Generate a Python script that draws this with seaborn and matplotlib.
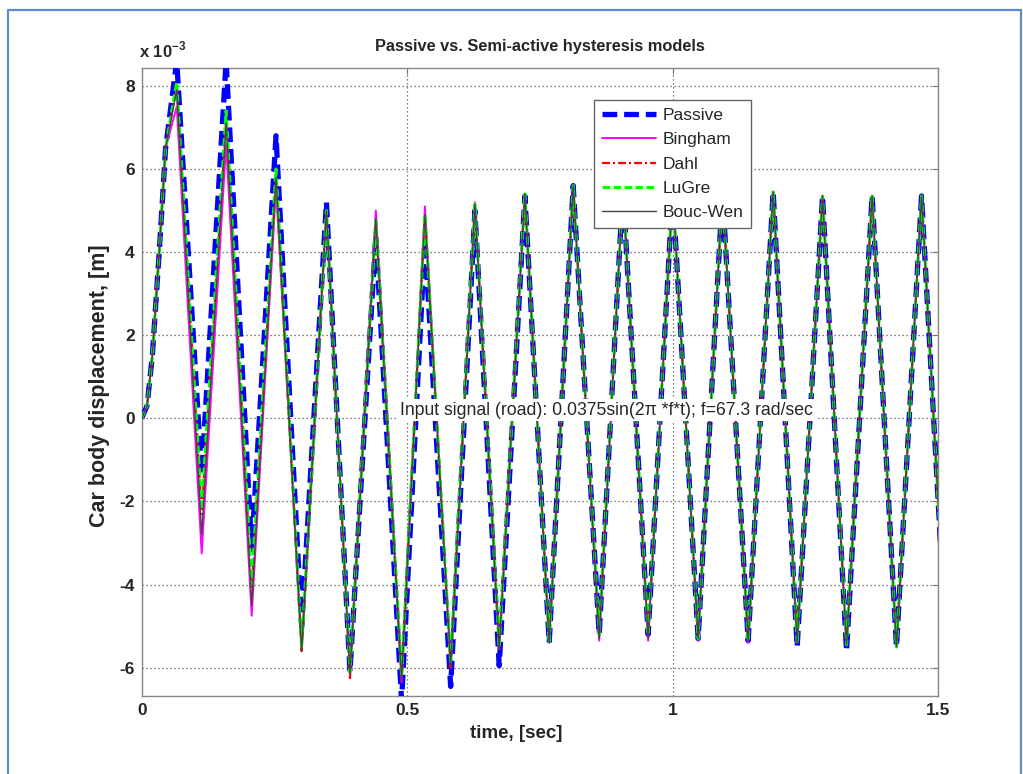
import numpy as np
import pandas as pd
import matplotlib
matplotlib.use("Agg")
import matplotlib.pyplot as plt
import seaborn as sns
from matplotlib.lines import Line2D

# ---------------- data (displacement in units of 1e-3 m) ----------------
onset_t = [0.0, 0.010, 0.020, 0.033, 0.045]
onset_y = [0.0, 0.3, 1.5, 4.0, 6.5]

peak_t = [0.066, 0.159, 0.253, 0.348, 0.441, 0.5335, 0.6277, 0.7218,
          0.8128, 0.9064, 1.0002, 1.094, 1.1895, 1.2825, 1.3759, 1.469]
trough_t = [0.113, 0.2072, 0.3013, 0.3923, 0.4896, 0.582, 0.6734, 0.7676,
            0.8618, 0.954, 1.0482, 1.1424, 1.2347, 1.3277, 1.4218, 1.515]

passive_peaks = [8.6, 8.6, 6.8, 5.2, 4.4, 4.3, 5.0, 5.35,
                 5.6, 5.55, 5.5, 5.45, 5.45, 5.35, 5.35, 5.35]
passive_troughs = [-1.35, -3.15, -5.0, -6.1, -6.8, -6.45, -5.95, -5.4,
                   -5.2, -5.2, -5.3, -5.35, -5.5, -5.6, -5.5, -5.45]

bingham_peaks = [7.5, 6.6, 5.55, 5.0, 5.0, 5.1, 5.2, 5.4,
                 5.6, 5.55, 5.5, 5.45, 5.45, 5.35, 5.35, 5.35]
bingham_troughs = [-3.25, -4.75, -5.55, -6.15, -6.35, -5.95, -5.55, -5.4,
                   -5.35, -5.35, -5.35, -5.4, -5.4, -5.45, -5.5, -5.45]

dahl_peaks = [8.0, 7.2, 5.8, 5.0, 4.8, 4.9, 5.15, 5.4,
              5.6, 5.55, 5.5, 5.45, 5.45, 5.35, 5.35, 5.35]
dahl_troughs = [-2.3, -4.1, -5.6, -6.25, -6.3, -6.0, -5.55, -5.4,
                -5.25, -5.25, -5.3, -5.35, -5.4, -5.45, -5.5, -5.45]

lugre_peaks = [8.1, 7.4, 6.0, 5.0, 4.75, 4.9, 5.15, 5.4,
               5.6, 5.55, 5.5, 5.45, 5.45, 5.35, 5.35, 5.35]
lugre_troughs = [-2.2, -4.0, -5.5, -6.1, -6.2, -5.9, -5.5, -5.4,
                 -5.2, -5.2, -5.3, -5.35, -5.4, -5.45, -5.5, -5.45]

boucwen_peaks = [7.9, 7.1, 5.8, 5.0, 4.8, 4.9, 5.15, 5.4,
                 5.6, 5.55, 5.5, 5.45, 5.45, 5.35, 5.35, 5.35]
boucwen_troughs = [-2.8, -4.5, -5.6, -6.15, -6.3, -5.95, -5.55, -5.4,
                   -5.3, -5.3, -5.3, -5.35, -5.4, -5.45, -5.5, -5.45]

series_names = ["Passive", "Bingham", "Dahl", "LuGre", "Bouc-Wen"]

xticks = [0, 0.5, 1, 1.5]
xtick_labels = ["0", "0.5", "1", "1.5"]
yticks = [-6, -4, -2, 0, 2, 4, 6, 8]
ytick_labels = ["-6", "-4", "-2", "0", "2", "4", "6", "8"]


def build(peaks, troughs):
    t = list(onset_t)
    y = list(onset_y)
    for tp, yp, tt, yt in zip(peak_t, peaks, trough_t, troughs):
        t += [tp, tt]
        y += [yp, yt]
    return np.array(t), np.array(y)


# ---------------- style ----------------
sns.set_style("white")
plt.rcParams["font.family"] = ["Liberation Sans", "DejaVu Sans"]
plt.rcParams["axes.unicode_minus"] = False
plt.rcParams["mathtext.fontset"] = "custom"
plt.rcParams["mathtext.rm"] = "Liberation Sans"
plt.rcParams["mathtext.bf"] = "Liberation Sans:bold"

fig = plt.figure(figsize=(10.23, 7.74), dpi=100)
ax = fig.add_axes([141.7 / 1023, 1 - 696 / 774, (938 - 141.7) / 1023, (696 - 68) / 774])

styles = {
    "Passive": dict(color="#0000FF", lw=3.8, linestyle=(0, (2.8, 1.3))),
    "Bingham": dict(color="#FF00FF", lw=1.4, linestyle="-"),
    "Dahl": dict(color="#FF0000", lw=1.6, linestyle=(0, (3.6, 1.35, 0.9, 1.35))),
    "LuGre": dict(color="#00FF00", lw=2.2, linestyle=(0, (2.45, 1.15))),
    "Bouc-Wen": dict(color="#444444", lw=1.0, linestyle="-"),
}
data = {
    "Passive": (passive_peaks, passive_troughs),
    "Bingham": (bingham_peaks, bingham_troughs),
    "Dahl": (dahl_peaks, dahl_troughs),
    "LuGre": (lugre_peaks, lugre_troughs),
    "Bouc-Wen": (boucwen_peaks, boucwen_troughs),
}

for i, name in enumerate(series_names):
    t, y = build(*data[name])
    sns.lineplot(x=t, y=y, ax=ax, label=name, estimator=None, sort=False,
                 legend=False, zorder=3 + i, **styles[name])

ax.set_xlim(0, 1.5)
ax.set_ylim(-6.68, 8.43)
ax.set_xticks(xticks)
ax.set_xticklabels(xtick_labels)
ax.set_yticks(yticks)
ax.set_yticklabels(ytick_labels)

for lab in ax.get_xticklabels() + ax.get_yticklabels():
    lab.set_fontweight("bold")
    lab.set_fontsize(12.5)

ax.tick_params(direction="in", length=4, width=0.8, color="#777777",
               top=True, right=True, pad=5)
ax.grid(True, linestyle=(0, (1, 2.2)), color="#555555", lw=0.9)
for sp in ax.spines.values():
    sp.set_color("#888888")
    sp.set_linewidth(1.0)

ax.set_title("Passive vs. Semi-active hysteresis models", fontsize=11.8,
             fontweight="bold", pad=12)
ax.set_xlabel("time, [sec]", fontsize=13.5, fontweight="bold")
ax.xaxis.set_label_coords((516 - 141.7) / 796.3, -(733 - 696) / 628)
ax.xaxis.label.set_va("center")
ax.set_ylabel("Car body displacement, [m]", fontsize=15.5, fontweight="bold")
ax.yaxis.set_label_coords(-(141.7 - 100) / 796.3, (696 - 386) / 628)
ax.yaxis.label.set_va("center")
ax.text(-0.003, 1.012, r"x 10$^{\mathbf{-3}}$", transform=ax.transAxes,
        ha="left", va="bottom", fontsize=12, fontweight="bold")

ax.text(0.4865, 0.2, "Input signal (road): 0.0375sin(2\u03c0 *f*t); f=67.3 rad/sec",
        fontsize=12.7, ha="left", va="center", zorder=20,
        bbox=dict(facecolor="white", edgecolor="none", pad=2.0))

leg = ax.legend(loc="upper left", bbox_to_anchor=(0.568, 0.949), borderaxespad=0,
                frameon=True, fancybox=False, framealpha=1, edgecolor="#666666",
                fontsize=12.5, handlelength=3.1, handletextpad=0.4,
                labelspacing=0.53, borderpad=0.45)
leg.get_frame().set_linewidth(1.0)
leg.set_zorder(30)

# blue outer frame
frame_x = [7.5 / 1023, 7.5 / 1023, 1021 / 1023, 1021 / 1023]
frame_y = [-0.05, 1 - 9.5 / 774, 1 - 9.5 / 774, -0.05]
fig.add_artist(Line2D(frame_x, frame_y, transform=fig.transFigure,
                      color="#5B8CCB", lw=1.6, clip_on=False))

fig.savefig("out.png", dpi=100)
